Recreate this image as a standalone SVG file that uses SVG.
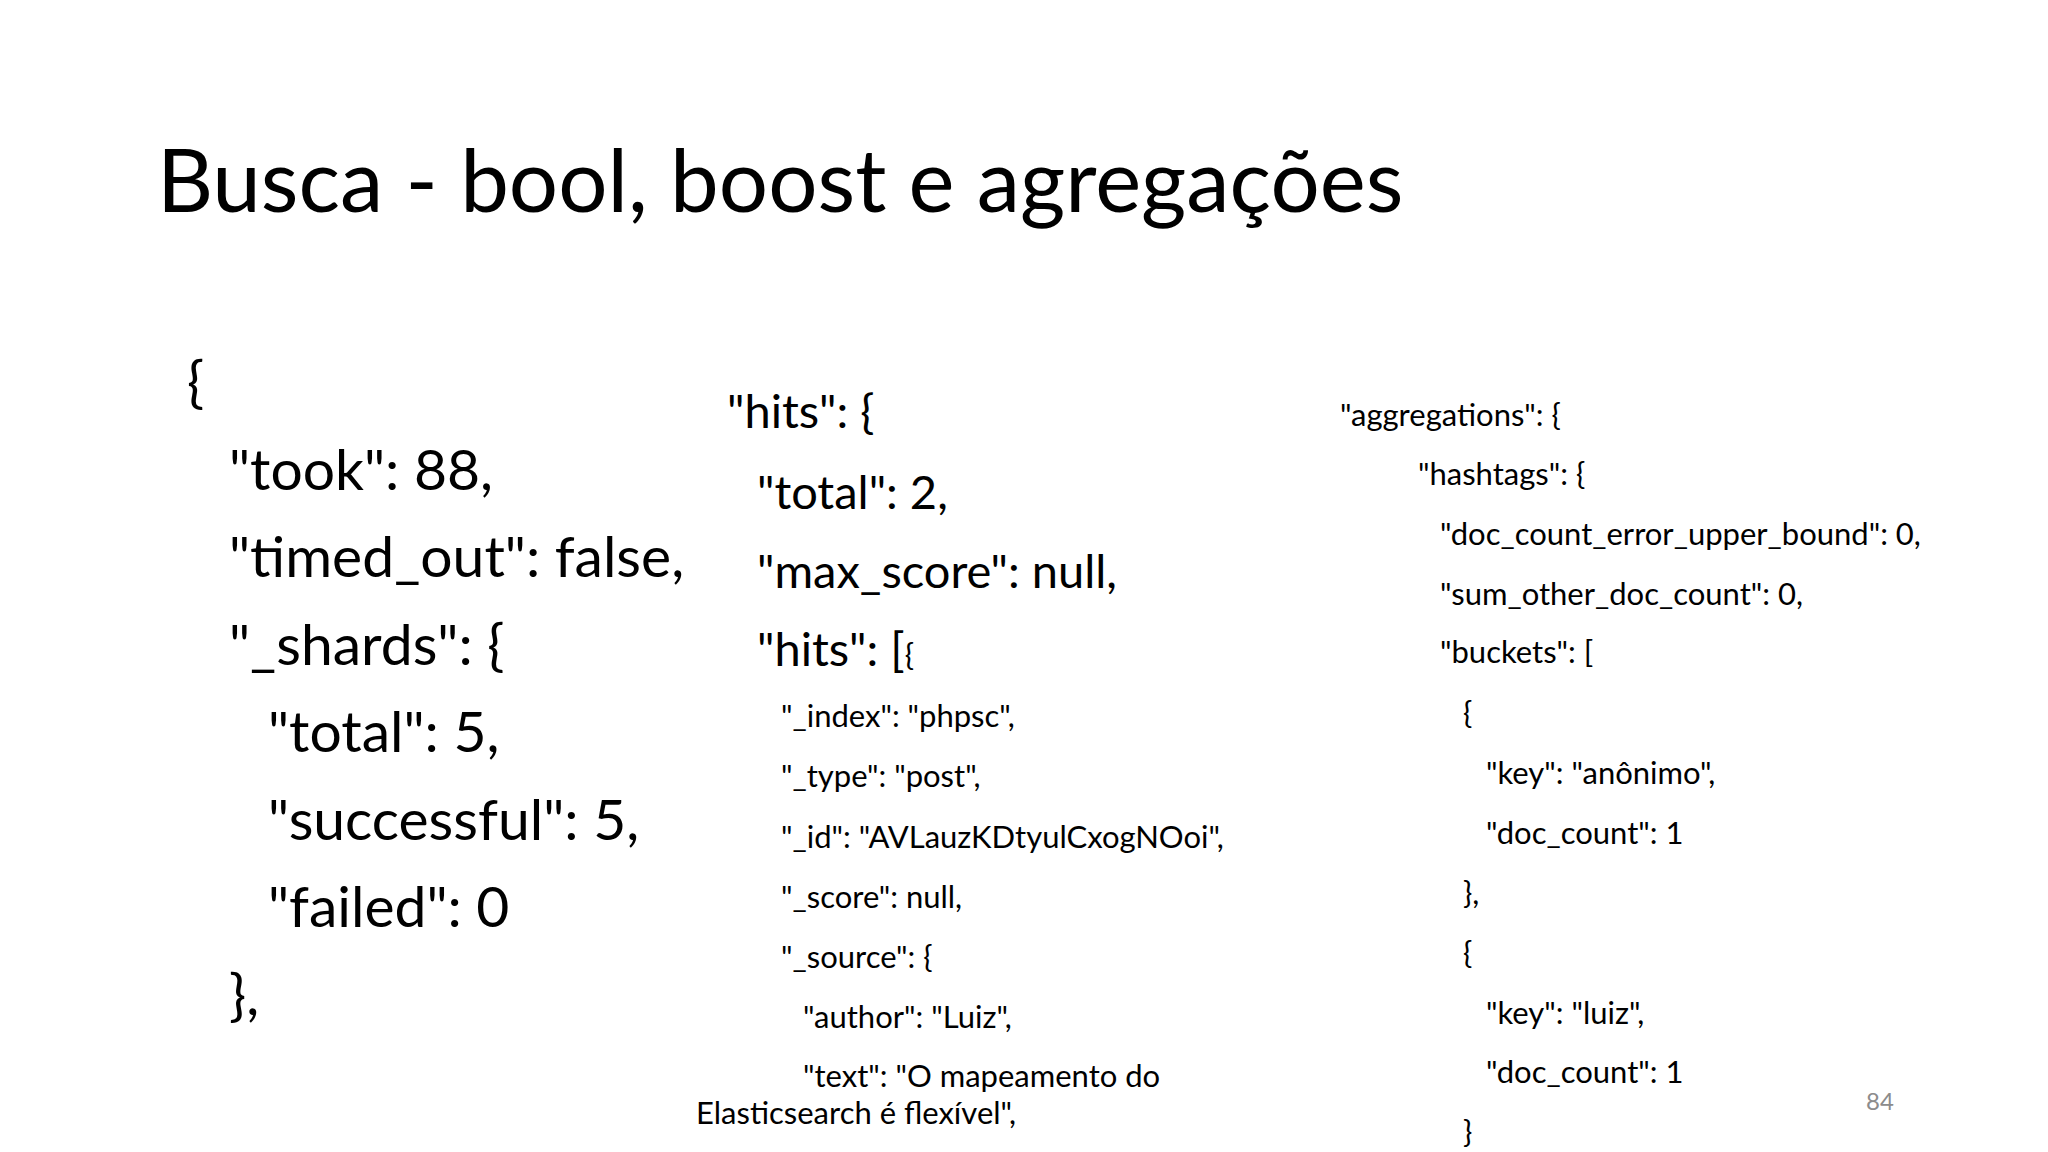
<svg xmlns="http://www.w3.org/2000/svg" width="2048" height="1152" viewBox="0 0 2048 1152">
<style>
text{font-family:Lato,"Open Sans","Liberation Sans",sans-serif;fill:#000;white-space:pre}
.t{font-size:87px}
.l{font-size:57px}
.m{font-size:47px}
.s{font-size:31px}
</style>
<rect width="2048" height="1152" fill="#fff"/>
<text class="t" x="157" y="212">Busca - bool, boost e agregações</text>
<g id="left" class="l">
<text class="l" x="187" y="402">{</text>
<text class="l" x="229" y="490">"took": 88,</text>
<text class="l" x="229" y="577">"timed_out": false,</text>
<text class="l" x="229" y="665">"_shards": {</text>
<text class="l" x="268" y="752">"total": 5,</text>
<text class="l" x="268" y="840">"successful": 5,</text>
<text class="l" x="268" y="927">"failed": 0</text>
<text class="l" x="229" y="1015">},</text>
</g>
<g id="middle">
<text class="m" x="727" y="428">"hits": {</text>
<text class="m" x="757" y="509">"total": 2,</text>
<text class="m" x="757" y="588">"max_score": null,</text>
<text class="m" x="757" y="666">"hits": [<tspan class="s">{</tspan></text>
<text class="s" x="781" y="727">"_index": "phpsc",</text>
<text class="s" x="781" y="787">"_type": "post",</text>
<text class="s" x="781" y="848">"_id": "AVLauzKDtyulCxogNOoi",</text>
<text class="s" x="781" y="908">"_score": null,</text>
<text class="s" x="781" y="968">"_source": {</text>
<text class="s" x="803" y="1028">"author": "Luiz",</text>
<text class="s" x="803" y="1087">"text": "O mapeamento do</text>
<text class="s" x="696" y="1124">Elasticsearch é flexível",</text>
</g>
<g id="right">
<text class="s" x="1340" y="426">"aggregations": {</text>
<text class="s" x="1418" y="485">"hashtags": {</text>
<text class="s" x="1440" y="545">"doc_count_error_upper_bound": 0,</text>
<text class="s" x="1440" y="605">"sum_other_doc_count": 0,</text>
<text class="s" x="1440" y="663">"buckets": [</text>
<text class="s" x="1463" y="724">{</text>
<text class="s" x="1486" y="784">"key": "anônimo",</text>
<text class="s" x="1486" y="844">"doc_count": 1</text>
<text class="s" x="1463" y="904">},</text>
<text class="s" x="1463" y="964">{</text>
<text class="s" x="1486" y="1024">"key": "luiz",</text>
<text class="s" x="1486" y="1083">"doc_count": 1</text>
<text class="s" x="1463" y="1143">}</text>
</g>
<text x="1866" y="1110" style="font-size:24px;fill:#8c8c8c">84</text>
</svg>
